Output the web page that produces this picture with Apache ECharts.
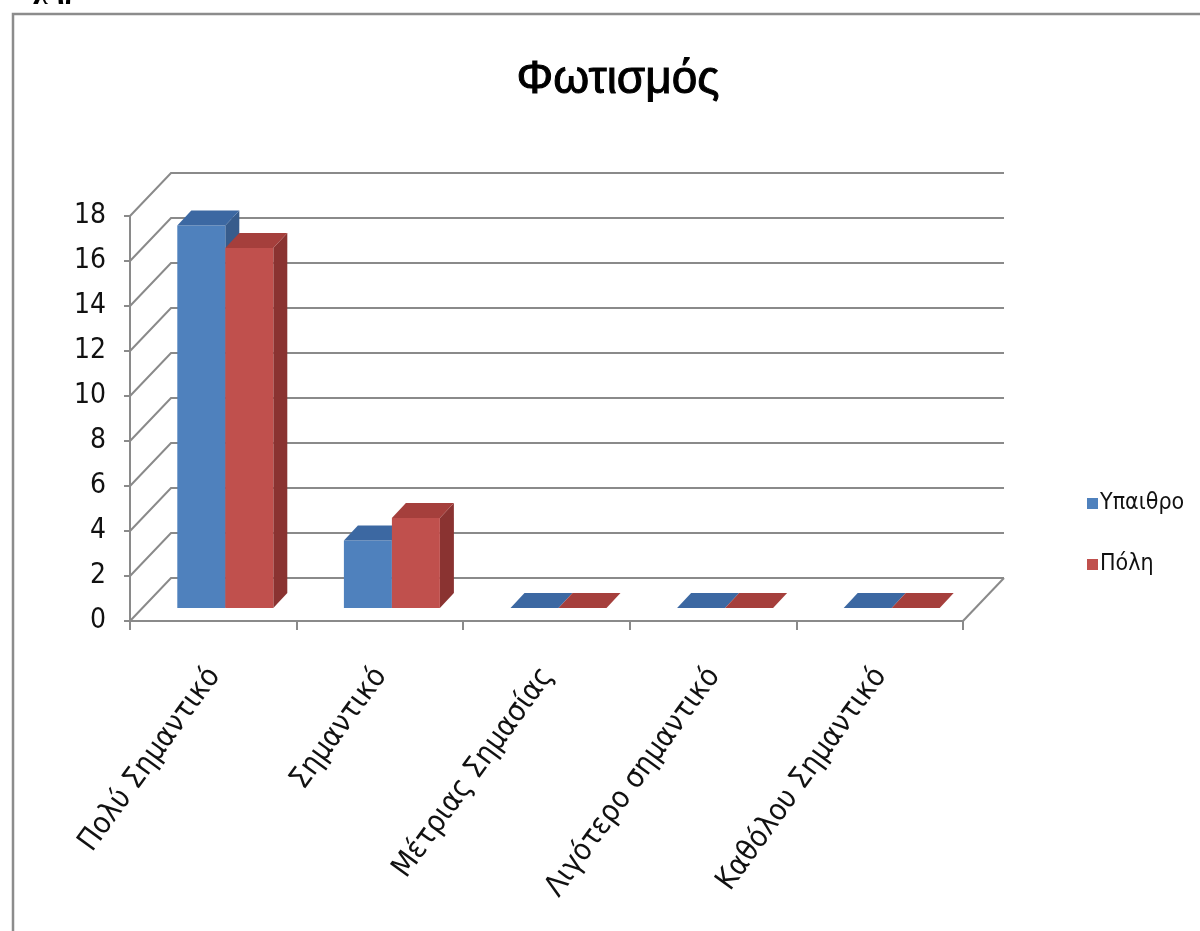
<!DOCTYPE html>
<html>
<head>
<meta charset="utf-8">
<title>Φωτισμός</title>
<script src="https://cdn.jsdelivr.net/npm/echarts@6/dist/echarts.min.js"></script>
<style>
  html, body { margin: 0; padding: 0; background: #ffffff; }
  #chart { width: 1200px; height: 931px; }
</style>
</head>
<body>
<div id="chart"></div>
<script>
// Categories and values
const categories = ['Πολύ Σημαντικό', 'Σημαντικό', 'Μέτριας Σημασίας', 'Λιγότερο σημαντικό', 'Καθόλου Σημαντικό'];
const seriesNames = ['Υπαιθρο', 'Πόλη'];
const ruralValues = [17, 3, 0, 0, 0];
const cityValues = [16, 4, 0, 0, 0];
const yTicks = [0, 2, 4, 6, 8, 10, 12, 14, 16, 18];

// Pseudo-3D geometry (pixels)
const WALL_DX = 41, WALL_DY = -43;     // depth of the back wall from the front plane
const BAR_DX = 12, BAR_DY = -13;       // bar front faces, set back from the front plane
const BAR_DEPTH_X = 14, BAR_DEPTH_Y = -15;
const BAR_W = 48;

const NARROW = '"Liberation Sans Narrow", "DejaVu Sans Condensed", sans-serif';
const GRID_COLOR = '#8a8a8a';

const palette = {
  blue: { front: '#4f81bd', top: '#3c68a2', side: '#375c8c' },
  red:  { front: '#c0504d', top: '#a53f3c', side: '#8a3331' }
};

const chart = echarts.init(document.getElementById('chart'), null, { renderer: 'canvas' });

// Back wall grid lines: diagonal from the front axis, then across the wall
function renderWall(params, api) {
  const cs = params.coordSys;
  const v = api.value(0);
  const y = api.coord([0, v])[1];
  const x0 = cs.x, x1 = cs.x + cs.width;
  return {
    type: 'polyline',
    shape: { points: [[x0, y], [x0 + WALL_DX, y + WALL_DY], [x1 + WALL_DX, y + WALL_DY]] },
    style: { stroke: GRID_COLOR, lineWidth: 2, fill: null },
    silent: true
  };
}

// Floor right edge
function renderFloor(params, api) {
  const cs = params.coordSys;
  const y = api.coord([0, 0])[1];
  const x1 = cs.x + cs.width;
  return {
    type: 'polyline',
    shape: { points: [[x1, y], [x1 + WALL_DX, y + WALL_DY]] },
    style: { stroke: GRID_COLOR, lineWidth: 2, fill: null },
    silent: true
  };
}

// One 3D bar: front, top and right side faces
function makeBarRenderer(colors, slot) {
  return function (params, api) {
    const i = api.value(0);
    const v = api.value(1);
    const top = api.coord([i, v]);
    const base = api.coord([i, 0]);
    const xl = base[0] + BAR_DX + (slot === 0 ? -BAR_W : 0);
    const xr = xl + BAR_W;
    const yt = top[1] + BAR_DY;
    const yb = base[1] + BAR_DY;
    const dx = BAR_DEPTH_X, dy = BAR_DEPTH_Y;
    const children = [];
    if (yb - yt > 0.5) {
      children.push({
        type: 'polygon',
        shape: { points: [[xr, yt], [xr + dx, yt + dy], [xr + dx, yb + dy], [xr, yb]] },
        style: { fill: colors.side }
      });
      children.push({
        type: 'rect',
        shape: { x: xl, y: yt, width: BAR_W, height: yb - yt },
        style: { fill: colors.front }
      });
    }
    children.push({
      type: 'polygon',
      shape: { points: [[xl, yt], [xl + dx, yt + dy], [xr + dx, yt + dy], [xr, yt]] },
      style: { fill: colors.top }
    });
    return { type: 'group', children: children };
  };
}

// Rotated category labels under the axis
function renderCategoryLabel(params, api) {
  const i = api.value(0);
  const p = api.coord([i, 0]);
  return {
    type: 'text',
    x: p[0] + 1,
    y: p[1] + 50,
    rotation: 54 * Math.PI / 180,
    style: {
      text: categories[i],
      align: 'right',
      verticalAlign: 'middle',
      fontFamily: NARROW,
      fontSize: 30,
      fill: '#111111'
    },
    silent: true
  };
}

const option = {
  backgroundColor: '#ffffff',
  animation: false,
  title: {
    text: 'Φωτισμός',
    left: 613,
    top: 52,
    textAlign: 'center',
    textStyle: {
      fontFamily: 'Liberation Sans, Arial, sans-serif',
      fontSize: 46,
      fontWeight: 'normal',
      color: '#000000',
      textBorderColor: '#000000',
      textBorderWidth: 1
    }
  },
  legend: {
    orient: 'vertical',
    left: 1082,
    top: 487,
    itemWidth: 11,
    itemHeight: 11,
    itemGap: 38,
    icon: 'rect',
    data: seriesNames,
    textStyle: { fontFamily: NARROW, fontSize: 23, color: '#111111', padding: [0, 0, 0, -3] }
  },
  graphic: [
    {
      type: 'rect',
      z: -10,
      shape: { x: 13, y: 14, width: 1200, height: 940 },
      style: { fill: null, stroke: '#8c8c8c', lineWidth: 2.5 },
      silent: true
    },
    {
      type: 'text',
      x: 14,
      y: 5,
      style: {
        text: 'Σχήμα 3',
        fontFamily: 'Liberation Serif, serif',
        fontWeight: 'bold',
        fontSize: 30,
        verticalAlign: 'bottom',
        fill: '#000000'
      },
      silent: true
    }
  ],
  grid: { left: 130, right: 237, top: 216, bottom: 310, containLabel: false },
  xAxis: {
    type: 'category',
    data: categories,
    boundaryGap: true,
    axisLine: { show: true, lineStyle: { color: GRID_COLOR, width: 2 } },
    axisTick: { show: true, length: 9, lineStyle: { color: GRID_COLOR, width: 2 } },
    axisLabel: { show: false },
    splitLine: { show: false }
  },
  yAxis: {
    type: 'value',
    min: 0,
    max: 18,
    interval: 2,
    axisLine: { show: true, lineStyle: { color: GRID_COLOR, width: 2 } },
    axisTick: { show: true, length: 6, lineStyle: { color: GRID_COLOR, width: 2 } },
    axisLabel: { margin: 24, fontFamily: NARROW, fontSize: 28, color: '#111111', padding: [6, 0, 0, 0] },
    splitLine: { show: false }
  },
  series: [
    {
      type: 'custom',
      name: 'wall',
      silent: true,
      renderItem: renderWall,
      data: yTicks.map(function (t) { return [t]; }),
      encode: { y: 0 },
      z: 1
    },
    {
      type: 'custom',
      name: 'floor',
      silent: true,
      renderItem: renderFloor,
      data: [[0]],
      encode: { y: 0 },
      z: 1
    },
    {
      type: 'custom',
      name: seriesNames[0],
      itemStyle: { color: palette.blue.front },
      renderItem: makeBarRenderer(palette.blue, 0),
      data: ruralValues.map(function (v, i) { return [i, v]; }),
      encode: { x: 0, y: 1 },
      z: 3
    },
    {
      type: 'custom',
      name: seriesNames[1],
      itemStyle: { color: palette.red.front },
      renderItem: makeBarRenderer(palette.red, 1),
      data: cityValues.map(function (v, i) { return [i, v]; }),
      encode: { x: 0, y: 1 },
      z: 4
    },
    {
      type: 'custom',
      name: 'labels',
      silent: true,
      renderItem: renderCategoryLabel,
      data: categories.map(function (c, i) { return [i]; }),
      encode: { x: 0 },
      clip: false,
      z: 5
    }
  ]
};

chart.setOption(option);
</script>
</body>
</html>
